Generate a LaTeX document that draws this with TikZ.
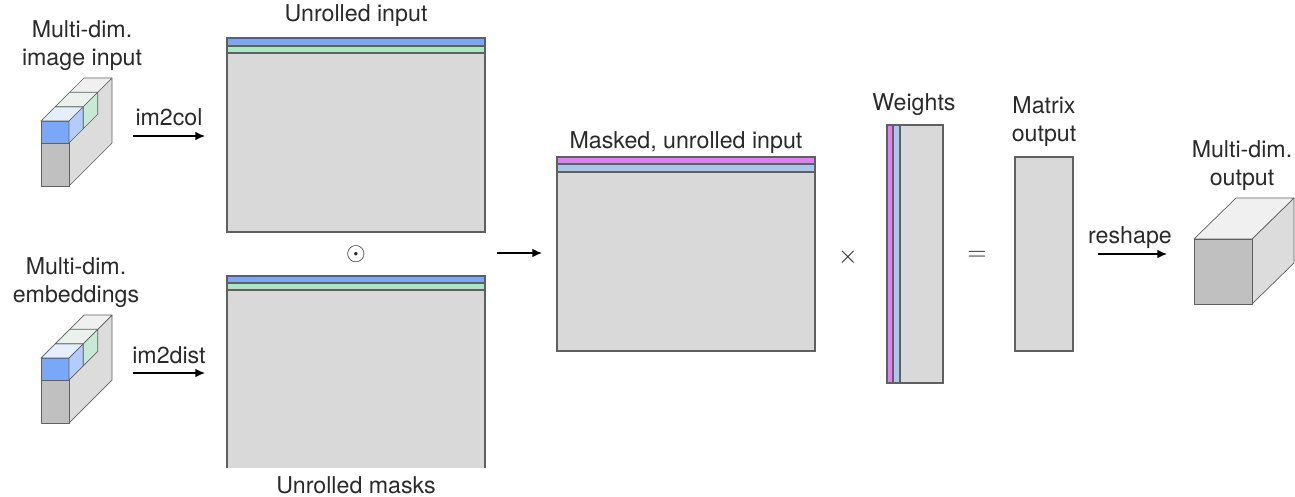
\documentclass[tikz,border=0pt]{standalone}
\usepackage{fontspec}
\setmainfont{TeX Gyre Heros}
\usepackage{tikz}
\usetikzlibrary{positioning, arrows.meta}

\definecolor{matgray}{HTML}{D9D9D9}
\definecolor{edgegray}{HTML}{606060}
\definecolor{rowblue}{HTML}{7CA6F6}
\definecolor{rowgreen}{HTML}{A8E8C2}
\definecolor{rowpink}{HTML}{E27FF6}
\definecolor{rowsky}{HTML}{A9C6EC}
\definecolor{cubefront}{HTML}{C0C0C0}
\definecolor{cubeside}{HTML}{DCDCDC}
\definecolor{cubetop}{HTML}{F0F0F0}
\definecolor{cubeblue}{HTML}{7AA8F8}
\definecolor{sideblue}{HTML}{B3CCFB}
\definecolor{topblue}{HTML}{E4EEFD}
\definecolor{sidegreen}{HTML}{C6EAD5}
\definecolor{topgreen}{HTML}{EAF2ED}
\definecolor{textgray}{HTML}{2A2A2A}

\tikzset{
  txt/.style={font=\fontsize{13.2}{15.4}\selectfont, text=textgray, inner sep=0pt, align=center, anchor=base},
  sym/.style={font=\fontsize{14}{16}\selectfont, text=textgray, inner sep=0pt},
  mat/.style={fill=matgray, draw=edgegray, line width=0.6pt},
  strip/.style={draw=edgegray, line width=0.6pt},
  cubeline/.style={draw=edgegray, line width=0.4pt, line join=round},
  arr/.style={-{Latex[length=5.5pt,width=5pt]}, line width=0.85pt, black},
}

\newcommand{\stackcube}[1]{
  \begin{scope}[shift={#1}]
    \filldraw[cubeline, fill=cubeside] (28,0) -- (71,-43) -- (71,22) -- (28,65) -- cycle;
    \filldraw[cubeline, fill=cubetop] (0,0) -- (28,0) -- (71,-43) -- (43,-43) -- cycle;
    \filldraw[cubeline, fill=cubefront] (0,22) rectangle (28,65);
    \filldraw[cubeline, fill=cubeblue] (0,0) rectangle (28,22);
    \filldraw[cubeline, fill=topblue] (0,0) -- (28,0) -- (42.33,-14.33) -- (14.33,-14.33) -- cycle;
    \filldraw[cubeline, fill=sideblue] (28,0) -- (42.33,-14.33) -- (42.33,7.67) -- (28,22) -- cycle;
    \filldraw[cubeline, fill=topgreen] (14.33,-14.33) -- (42.33,-14.33) -- (56.67,-28.67) -- (28.67,-28.67) -- cycle;
    \filldraw[cubeline, fill=sidegreen] (42.33,-14.33) -- (56.67,-28.67) -- (56.67,-6.67) -- (42.33,7.67) -- cycle;
  \end{scope}
}

\begin{document}
\begin{tikzpicture}[x=0.02cm, y=-0.02cm]
  \useasboundingbox (0,0) rectangle (1295,497);

  \stackcube{(41,121)}
  \stackcube{(41,358)}
  \node[txt] (imgin) at (82,65) {Multi-dim.\\image input};
  \node[txt] (embin) at (76,302) {Multi-dim.\\embeddings};

  \coordinate (colA) at (133,136);
  \coordinate (colB) at (205,136);
  \coordinate (distA) at (133,373);
  \coordinate (distB) at (205,373);
  \node[txt] (im2col) at (169,125) {im2col};
  \node[txt] (im2dist) at (169,363) {im2dist};
  \draw (colA) edge[arr] (colB);
  \draw (distA) edge[arr] (distB);

  \filldraw[mat] (227,38) rectangle (485,232);
  \filldraw[strip, fill=rowblue] (227,38) rectangle (485,46);
  \filldraw[strip, fill=rowgreen] (227,46) rectangle (485,53);
  \node[txt] (unrin) at (356,21) {Unrolled input};

  \fill[matgray] (227,276) rectangle (485,468);
  \draw[mat, fill=none] (227,468) -- (227,276) -- (485,276) -- (485,468);
  \filldraw[strip, fill=rowblue] (227,276) rectangle (485,283);
  \filldraw[strip, fill=rowgreen] (227,283) rectangle (485,290);
  \node[txt] (unrmask) at (356,493) {Unrolled masks};

  \node[sym] (odot) at (356,254) {$\odot$};

  \coordinate (midA) at (497,253);
  \coordinate (midB) at (542,253);
  \draw (midA) edge[arr] (midB);

  \filldraw[mat] (557,157) rectangle (815,351);
  \filldraw[strip, fill=rowpink] (557,157) rectangle (815,164);
  \filldraw[strip, fill=rowsky] (557,164) rectangle (815,172);
  \node[txt] (masked) at (686,148) {Masked, unrolled input};

  \node[sym] (times) at (848,257) {$\times$};

  \filldraw[mat] (887,125) rectangle (943,383);
  \filldraw[strip, fill=rowpink] (887,125) rectangle (893,383);
  \filldraw[strip, fill=rowsky] (893,125) rectangle (900,383);
  \node[txt] (weights) at (914,110) {Weights};

  \node[sym] (equals) at (977,256) {$=$};

  \filldraw[mat] (1015,157) rectangle (1073,351);
  \node[txt] (matout) at (1044,141) {Matrix\\output};

  \coordinate (reA) at (1098,254);
  \coordinate (reB) at (1167,254);
  \node[txt] (reshape) at (1130,243) {reshape};
  \draw (reA) edge[arr] (reB);

  \filldraw[cubeline, fill=cubeside] (1252,239) -- (1294,198) -- (1294,263) -- (1252,304) -- cycle;
  \filldraw[cubeline, fill=cubetop] (1194,239) -- (1252,239) -- (1294,198) -- (1236,198) -- cycle;
  \filldraw[cubeline, fill=cubefront] (1194,239) rectangle (1252,304);
  \node[txt] (mdout) at (1242,185) {Multi-dim.\\output};
\end{tikzpicture}
\end{document}
